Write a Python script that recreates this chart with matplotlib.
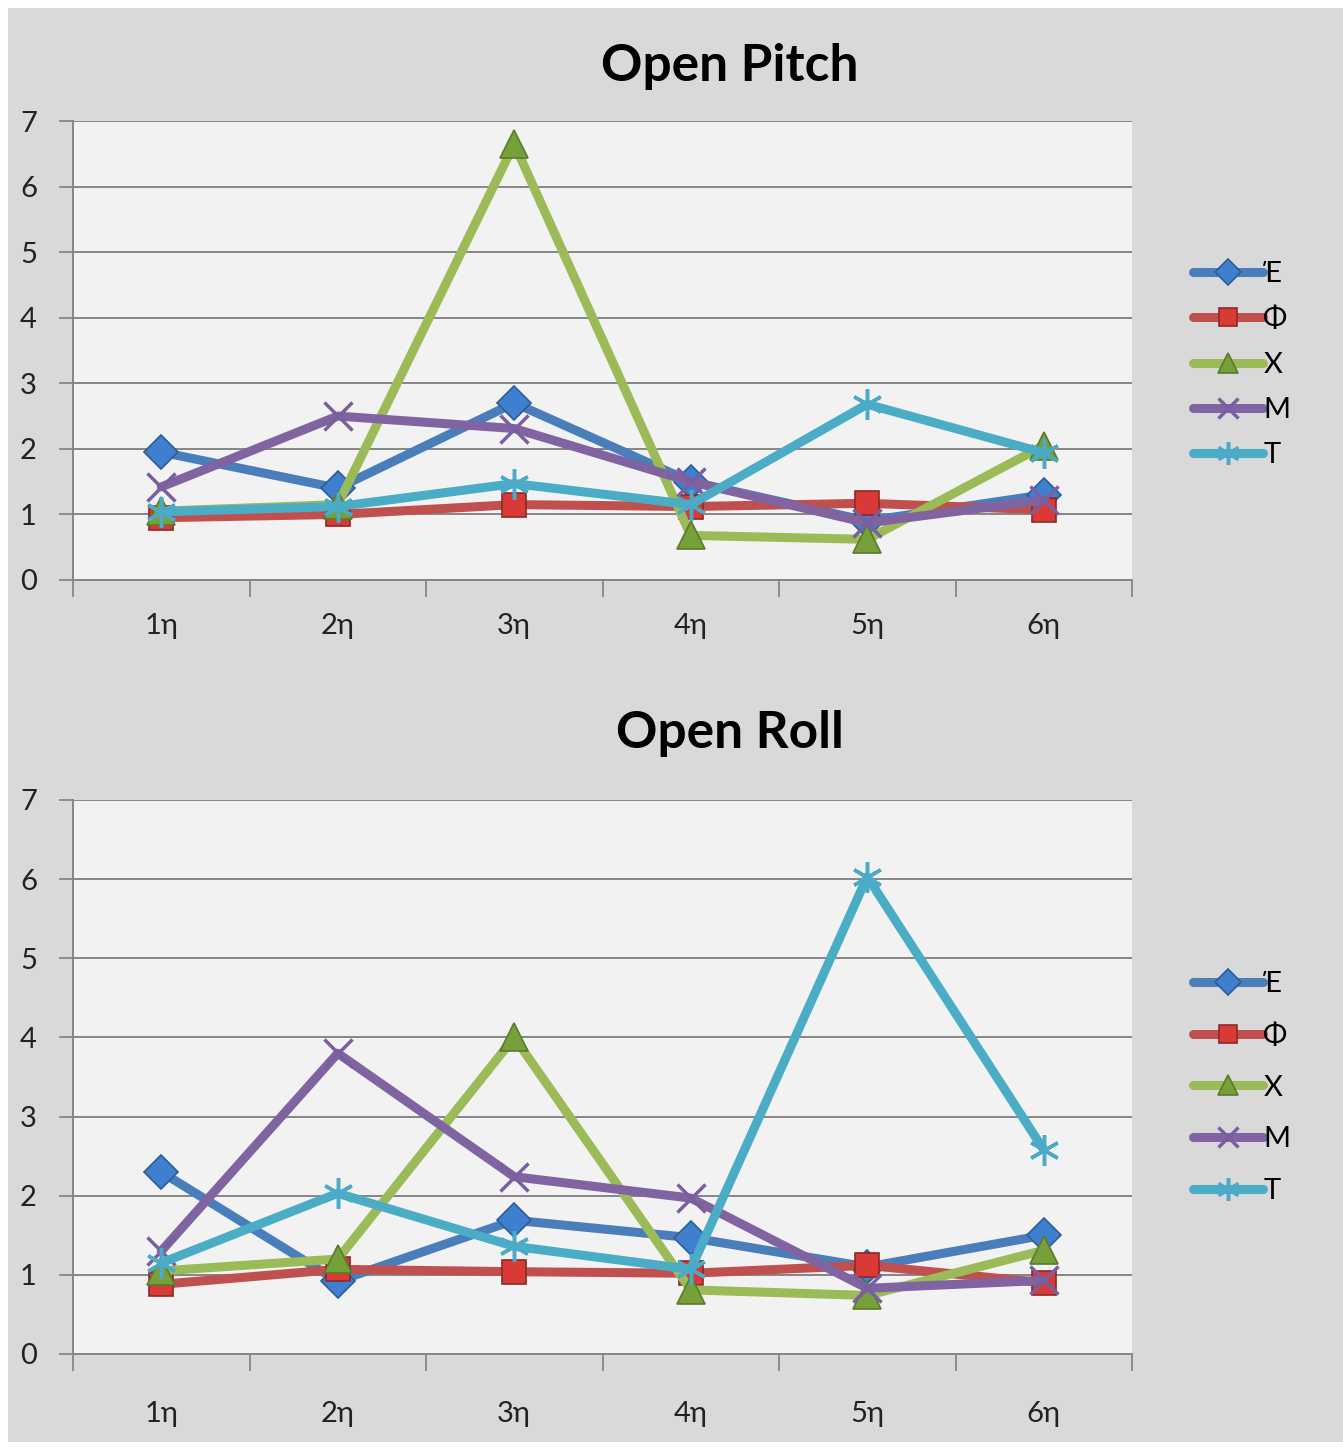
import matplotlib.pyplot as plt
from matplotlib.patches import Rectangle

plt.rcParams['font.family'] = ['Lato', 'Noto Sans', 'DejaVu Sans']

# категории (повторения) и серии
periods = ['1η', '2η', '3η', '4η', '5η', '6η']
series_names = ['Έ', 'Φ', 'Χ', 'Μ', 'Τ']

# Open Pitch
pitch_E = [1.95, 1.40, 2.70, 1.50, 0.90, 1.30]
pitch_F = [0.95, 1.00, 1.15, 1.12, 1.17, 1.07]
pitch_X = [1.05, 1.15, 6.65, 0.68, 0.62, 2.05]
pitch_M = [1.42, 2.50, 2.31, 1.50, 0.87, 1.22]
pitch_T = [1.04, 1.12, 1.47, 1.15, 2.68, 1.94]

# Open Roll
roll_E = [2.30, 0.92, 1.69, 1.47, 1.10, 1.50]
roll_F = [0.88, 1.07, 1.04, 1.02, 1.12, 0.90]
roll_X = [1.05, 1.20, 4.00, 0.81, 0.74, 1.31]
roll_M = [1.30, 3.80, 2.24, 1.97, 0.83, 0.93]
roll_T = [1.15, 2.03, 1.36, 1.07, 6.03, 2.58]

line_colors = ['#4a7ebb', '#c0504d', '#9bbb59', '#8064a2', '#4bacc6']
marker_face = ['#3f7fcf', '#d93a36', '#76a03a', '#8a70b0', '#5bc0dc']
marker_edge = ['#2c5d98', '#8b2a27', '#5b7a2b', '#7a5fa0', '#4aaac8']
markers = ['D', 's', '^', 'x', (6, 2, 0)]
msizes = [17, 17, 20, 20, 22]

fig = plt.figure(figsize=(13.43, 14.47), dpi=100, facecolor='white')
fig.patches.append(Rectangle((8 / 1343, 5 / 1447), 1 - 8 / 1343, 1 - 13 / 1447,
                             transform=fig.transFigure, facecolor='#d9d9d9',
                             edgecolor='none', zorder=-10))

grid_c = '#868686'


def draw_panel(rect, title, data, title_y, legend_y, legend_gap, xpad):
    ax = fig.add_axes(rect)
    ax.set_facecolor('#f2f2f2')
    x = range(len(periods))
    for vals, name, lc, mf, me, mk, ms in zip(data, series_names, line_colors,
                                                marker_face, marker_edge, markers, msizes):
        ax.plot(x, vals, color=lc, lw=6.5, marker=mk, markersize=ms,
                markerfacecolor=mf, markeredgecolor=me,
                markeredgewidth=1.2 if mk in ('D', 's', '^') else 2.5,
                label=name, solid_capstyle='round', zorder=3)
    ax.set_xlim(-0.5, 5.5)
    ax.set_ylim(0, 7)
    ax.set_yticks(range(8))
    ax.set_xticks(list(x))
    ax.set_xticklabels(periods)
    ax.set_xticks([i - 0.5 for i in range(7)], minor=True)
    ax.tick_params(axis='x', which='major', length=0, pad=xpad, labelsize=21,
                   labelcolor='#222222')
    ax.tick_params(axis='x', which='minor', length=12, width=1.3, color=grid_c)
    ax.tick_params(axis='y', length=10, width=1.3, color=grid_c, pad=16,
                   labelsize=21, labelcolor='#222222')
    ax.yaxis.grid(True, color=grid_c, lw=1.4)
    ax.set_axisbelow(True)
    for s in ('top', 'right'):
        ax.spines[s].set_visible(False)
    for s in ('left', 'bottom'):
        ax.spines[s].set_color(grid_c)
        ax.spines[s].set_linewidth(1.4)
    fig.text(0.5435, title_y, title, ha='center', va='center',
             fontsize=37, fontweight='bold', color='black')
    ax.legend(loc='upper left', bbox_to_anchor=(0.869, legend_y),
              bbox_transform=fig.transFigure,
              frameon=False, fontsize=21, handlelength=2.4,
              handletextpad=0.0, labelspacing=legend_gap, markerscale=0.75)
    return ax


draw_panel([73 / 1343, 1 - 580 / 1447, 1059 / 1343, 459 / 1447], 'Open Pitch',
           [pitch_E, pitch_F, pitch_X, pitch_M, pitch_T],
           1 - 66 / 1447, 1 - 235 / 1447, 0.66, 24)
draw_panel([73 / 1343, 1 - 1354 / 1447, 1059 / 1343, 554 / 1447], 'Open Roll',
           [roll_E, roll_F, roll_X, roll_M, roll_T],
           1 - 733 / 1447, 1 - 945 / 1447, 0.88, 34)

fig.savefig('out.png', dpi=100, facecolor=fig.get_facecolor())
